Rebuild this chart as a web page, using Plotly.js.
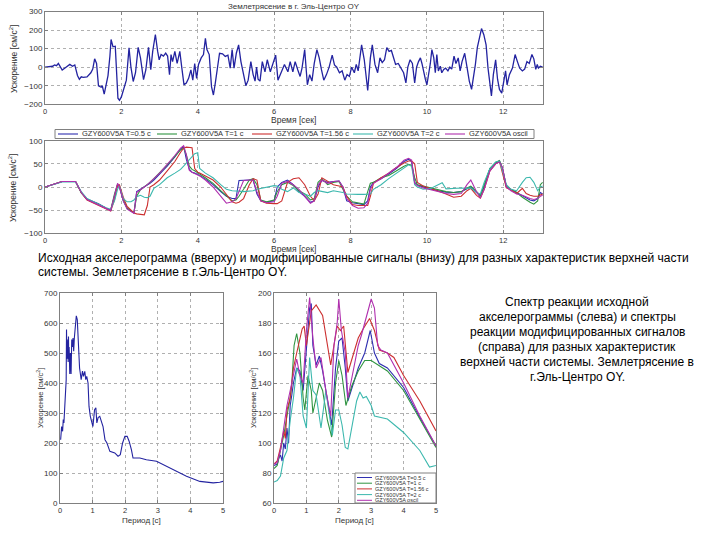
<!DOCTYPE html>
<html>
<head>
<meta charset="utf-8">
<script src="https://cdn.plot.ly/plotly-3.0.1.min.js"></script>
<style>
  html, body { margin: 0; padding: 0; background: #fff; }
  #chart { width: 720px; height: 540px; }
</style>
</head>
<body>
<div id="chart"></div>
<script>
// accelerogram, El Centro OY (top panel)
var accT = [0,0.1,0.2,0.25,0.3,0.35,0.4,0.45,0.55,0.65,0.72,0.78,0.85,0.9,0.95,1.0,1.1,1.2,1.25,1.3,1.35,1.4,1.47,1.5,1.55,1.6,1.65,1.7,1.73,1.78,1.84,1.91,1.95,2.0,2.07,2.13,2.2,2.25,2.31,2.37,2.44,2.5,2.58,2.64,2.71,2.77,2.82,2.89,2.95,2.99,3.04,3.1,3.16,3.21,3.26,3.3,3.34,3.4,3.46,3.53,3.58,3.64,3.7,3.76,3.82,3.87,3.92,3.97,4.02,4.09,4.15,4.2,4.24,4.3,4.36,4.41,4.46,4.51,4.57,4.65,4.72,4.79,4.85,4.9,4.95,5.01,5.07,5.13,5.19,5.26,5.32,5.39,5.45,5.5,5.54,5.58,5.63,5.69,5.76,5.82,5.9,5.97,6.04,6.1,6.18,6.27,6.36,6.42,6.49,6.55,6.62,6.68,6.73,6.8,6.87,6.93,6.99,7.05,7.12,7.18,7.24,7.3,7.37,7.44,7.52,7.58,7.64,7.71,7.78,7.85,7.91,7.97,8.03,8.1,8.15,8.2,8.29,8.36,8.45,8.52,8.57,8.64,8.71,8.77,8.83,8.89,8.95,9.01,9.07,9.12,9.18,9.25,9.32,9.39,9.45,9.5,9.56,9.62,9.68,9.73,9.78,9.83,9.87,9.92,9.96,10.0,10.05,10.09,10.13,10.18,10.22,10.26,10.3,10.35,10.39,10.44,10.49,10.55,10.6,10.65,10.71,10.76,10.82,10.87,10.92,10.99,11.05,11.11,11.17,11.22,11.27,11.32,11.38,11.43,11.49,11.55,11.6,11.64,11.69,11.74,11.8,11.85,11.9,11.96,12.02,12.06,12.1,12.16,12.24,12.31,12.37,12.43,12.5,12.56,12.62,12.68,12.75,12.8,12.85,12.89,12.92,12.97,13.03];
var accV = [0,3,5,12,8,20,5,-15,0,15,5,12,-45,-65,-52,-55,-52,-30,-10,45,20,-100,-108,-100,-145,-100,-45,60,149,110,113,-167,-178,-160,-112,-70,104,0,-77,-30,107,50,-67,-15,107,-13,85,176,85,40,68,60,76,60,-40,68,30,85,20,85,0,-95,-85,-60,-15,-70,20,-60,15,50,68,155,95,68,-105,-150,-85,-15,75,72,58,65,-5,95,-5,75,120,30,-40,-100,-70,30,-40,-75,0,-65,-75,30,-25,40,-25,20,65,-70,-25,15,-25,30,-25,30,-15,-50,-5,95,-95,-40,-75,20,95,50,-15,-70,-40,0,65,12,0,-30,-20,-70,-40,-50,0,-30,15,-20,120,40,-125,50,120,15,-30,50,25,40,105,85,90,50,15,20,-5,-30,-85,0,40,20,-85,0,30,50,20,-40,-65,-95,-40,20,95,50,-30,68,-20,5,-30,-12,-5,-20,0,-10,60,20,50,-20,30,75,0,-75,-120,-60,15,105,165,208,175,120,-5,-65,-155,-40,40,-65,-120,-140,-60,-20,-95,-40,-5,68,30,-5,-20,-10,30,20,68,45,-12,15,-5,5,0];

// modified signals (middle panel), shared time grid
var modT = [0,0.3,0.45,0.8,0.95, 1.1,1.4,1.6,1.72,1.82, 1.9,1.95,2.05,2.15,2.25, 2.33,2.4,2.5,2.6,2.68, 2.75,2.85,3.0,3.2,3.4, 3.55,3.63,3.7,3.78,3.85, 3.92,4.0,4.05,4.2,4.4, 4.6,4.75,4.9,5.0,5.08, 5.2,5.35,5.45,5.55,5.65, 5.8,6.0,6.08,6.2,6.35, 6.5,6.65,6.8,6.95,7.05, 7.15,7.25,7.4,7.55,7.7, 7.8,7.9,8.05,8.2,8.35, 8.45,8.52,8.6,8.8,9.0, 9.2,9.4,9.52,9.6,9.68, 9.75,9.9,10.1,10.3,10.4, 10.5,10.7,10.9,11.05,11.15, 11.3,11.4,11.5,11.65,11.8, 11.9,11.98,12.08,12.2,12.35, 12.5,12.6,12.7,12.8,12.9, 12.97,13.03];
var modT05 = [0,8,12,12,-12, -26,-36,-46,-50,-20, 5,0,-30,-46,-52, -56,-10,-5,0,4, 8,15,28,45,65, 82,88,60,38,32, 30,27,25,17,5, -10,-20,-25,-25,14, 15,15,15,-15,-30, -33,-30,0,10,15, 5,-10,-20,-33,-30, 0,14,10,12,13, 0,-30,-34,-36,-38, -30,0,10,18,28, 40,55,60,55,10, 4,0,-4,-8,-10, -11,-12,-10,-4,0, -12,-18,0,40,52, 56,40,0,-5,-12, -20,-24,-28,-30,-25, -12,-15];
var modT1 = [0,8,12,12,-13, -27,-37,-46,-50,-15, 6,2,-28,-45,-52, -55,-20,-6,0,5, 10,18,30,48,66, 80,84,70,45,38, 35,30,28,20,8, -8,-18,-30,-28,-20, -5,15,18,5,-28, -32,-28,-10,5,10, 3,-8,-15,-28,-25, 10,18,5,10,12, -5,-20,-32,-35,-37, -10,8,10,20,25, 35,45,49,47,20, 5,2,-2,-5,-8, -10,-12,-10,-2,2, -10,-20,5,40,53, 57,40,2,-5,-12, -22,-28,-33,-37,-30, 5,10];
var modT156 = [0,8,12,12,-12, -28,-40,-48,-52,-28, 3,5,-22,-42,-50, -56,-58,-59,-60,-40, 0,5,15,35,55, 75,84,86,86,85, 40,32,30,24,15, 0,-15,-32,-35,-33, -25,5,18,15,-30, -35,-36,-36,-30,10, 18,20,5,-20,-30, -15,20,12,5,2, 0,-20,-38,-40,-40, -40,-20,8,20,30, 42,52,56,56,50, 10,2,-3,-8,-12, -15,-22,-20,-8,-3, -18,-24,-5,35,50, 55,30,-2,-6,-14, -3,-14,-18,-20,-20, -18,-15];
var modT2 = [0,8,11,11,-10, -25,-37,-45,-48,-30, -5,2,-25,-32,-32, -28,-21,-18,-22,-23, -20,-3,5,20,30, 38,45,52,60,66, 72,74,40,30,20, 5,-5,-8,-8,-9, -10,-8,-8,-5,-3, 0,3,2,-5,-10, -2,-12,-15,-20,-12, -8,-10,-12,-8,-10, -12,-15,-16,-16,-16, -16,-15,-5,5,18, 30,42,48,45,5, 0,-5,-3,5,9, -4,-3,-2,-3,-2, -12,-15,10,40,54, 56,35,5,-5,-8, 10,20,21,10,-8, 0,2];
var modOsc = [0,8,12,12,-12, -27,-38,-47,-51,-18, 8,0,-30,-48,-54, -57,-12,-5,0,5, 10,18,30,48,68, 84,89,70,36,32, 30,26,24,15,0, -20,-35,-32,-25,-10, 14,15,15,-10,-30, -34,-32,-20,8,12, 5,-5,-20,-35,-30, 5,15,8,12,13, 0,-25,-40,-46,-45, -35,-5,8,18,30, 42,58,62,58,8, 3,-2,-6,-10,-12, -14,-16,-14,5,15, -10,-24,-5,35,50, 54,42,0,-8,-15, -18,-22,-25,-27,-25, -20,-18];

// response spectrum of the original record (bottom left)
var specT = [0.02,0.05,0.08,0.1,0.12,0.15,0.17,0.19,0.2,0.21,0.22,0.23,0.24,0.25,0.26,0.27,0.28,0.3,0.32,0.34,0.36,0.38,0.4,0.42,0.44,0.47,0.5,0.53,0.56,0.6,0.65,0.69,0.72,0.76,0.79,0.82,0.86,0.89,0.93,0.97,1.01,1.06,1.1,1.13,1.17,1.22,1.27,1.32,1.38,1.44,1.53,1.68,1.78,1.85,1.92,1.99,2.06,2.12,2.19,2.24,2.45,2.65,2.96,3.27,3.58,3.88,4.29,4.7,4.9,5.0];
var specV = [211,255,239,278,267,322,378,411,578,480,560,500,545,470,555,480,520,430,500,430,545,520,550,506,550,580,624,611,544,450,411,440,422,439,411,422,400,322,289,272,255,311,317,267,285,289,267,255,211,200,172,167,156,161,200,222,222,206,178,150,150,144,139,122,106,89,72,67,69,72];

// response spectra of the modified signals (bottom right)
var spT05 = [0,0.1,0.15,0.2,0.25,0.3,0.35,0.4,0.45,0.5,0.55,0.6,0.7,0.8,0.9,1.0,1.1,1.15,1.2,1.3,1.4,1.5,1.65,1.78,1.9,2.0,2.1,2.2,2.28,2.45,2.6,2.8,2.97,3.1,3.25,3.5,4.0,4.5,5.0];
var spV05 = [85,86,90,92,88,100,96,110,100,125,132,140,150,148,135,160,190,193,165,152,158,148,130,112,150,168,170,150,128,140,150,160,175,160,153,150,137,117,98];
var spT1 = [0,0.1,0.2,0.3,0.4,0.5,0.55,0.62,0.7,0.8,0.9,0.95,1.05,1.15,1.2,1.3,1.4,1.5,1.65,1.78,1.9,2.0,2.1,2.22,2.4,2.6,2.8,3.0,3.2,3.5,4.0,4.5,5.0];
var spV1 = [83,85,95,105,118,130,140,165,173,160,130,122,145,135,120,130,140,135,115,104,140,155,145,125,138,148,155,155,152,148,135,116,97];
var spT156 = [0,0.1,0.2,0.3,0.35,0.4,0.5,0.6,0.7,0.8,0.87,0.93,1.0,1.15,1.3,1.5,1.62,1.75,1.85,1.95,2.05,2.15,2.28,2.45,2.6,2.75,2.95,3.1,3.25,3.5,3.7,4.0,4.5,5.0];
var spV156 = [86,88,97,108,103,122,130,150,160,170,176,178,165,188,192,185,170,152,165,178,175,178,147,160,170,176,183,175,162,160,157,145,128,108];
var spT2 = [0,0.1,0.2,0.25,0.3,0.4,0.5,0.6,0.7,0.8,0.9,1.0,1.1,1.2,1.3,1.45,1.6,1.7,1.8,1.9,2.0,2.1,2.2,2.28,2.4,2.55,2.65,2.75,2.85,3.0,3.1,3.3,3.5,4.0,4.5,4.8,5.0];
var spV2 = [74,75,78,84,90,95,115,130,150,145,118,110,157,135,132,110,135,120,105,122,122,112,97,96,110,128,134,130,131,125,118,117,116,107,95,84,85];
var spTosc = [0,0.1,0.2,0.3,0.4,0.5,0.6,0.7,0.8,0.9,1.0,1.1,1.2,1.3,1.45,1.6,1.75,1.85,1.95,2.0,2.08,2.2,2.28,2.45,2.6,2.7,2.8,3.0,3.1,3.2,3.3,3.5,4.0,4.5,5.0];
var spVosc = [86,87,95,110,125,135,145,156,145,140,175,197,170,150,157,135,118,165,180,196,175,160,130,150,165,172,180,196,190,165,162,160,140,118,98];

var names = ["GZY600V5A T=0.5 c", "GZY600V5A T=1 c", "GZY600V5A T=1.56 c", "GZY600V5A T=2 c", "GZY600V5A oscil"];
var colors = ["#2f2fb0", "#2e9440", "#cc2f2f", "#3cb8ae", "#b02fae"];

var rightText = ["Спектр реакции исходной", "акселерограммы (слева) и спектры", "реакции модифицированных сигналов",
  "(справа) для разных характеристик", "верхней части системы. Землетрясение в", "г.Эль-Центро OY."];

var modY = [modT05, modT1, modT156, modT2, modOsc];
var spX = [spT05, spT1, spT156, spT2, spTosc];
var spY = [spV05, spV1, spV156, spV2, spVosc];

var data = [];
data.push({x: accT, y: accV, type: "scatter", mode: "lines", line: {color: "#2323a0", width: 1.3}, xaxis: "x", yaxis: "y"});
for (var i = 0; i < 5; i++) {
  data.push({x: modT, y: modY[i], type: "scatter", mode: "lines", name: names[i],
    line: {color: colors[i], width: 1.1}, xaxis: "x2", yaxis: "y2"});
}
data.push({x: specT, y: specV, type: "scatter", mode: "lines", line: {color: "#2323a0", width: 1.1}, xaxis: "x3", yaxis: "y3"});
for (var j = 0; j < 5; j++) {
  data.push({x: spX[j], y: spY[j], type: "scatter", mode: "lines", name: names[j],
    line: {color: colors[j], width: 1.1}, xaxis: "x4", yaxis: "y4"});
}

var fam = "Liberation Sans, Arial, sans-serif";
var tickFont = {family: fam, size: 8, color: "#333"};

function axis(extra) {
  return Object.assign({
    showline: true, mirror: "ticks", linecolor: "#808080", linewidth: 1,
    ticks: "inside", ticklen: 3, tickcolor: "#808080",
    showgrid: true, gridcolor: "#b0b0b0", griddash: "dot", gridwidth: 1,
    zeroline: false, tickfont: tickFont, fixedrange: true
  }, extra);
}
function xAxis(extra) {
  return axis(Object.assign({tickfont: {family: fam, size: 7.5, color: "#333"}}, extra));
}

var yTitle = "Ускорение [см/с<sup>2</sup>]";

// page px -> paper coords
function px(x) { return x / 720; }
function py(y) { return 1 - y / 540; }

var shapes = [];
var annotations = [
  {text: "Землетрясение в г. Эль-Центро OY", x: px(294), y: py(7), font: {size: 8, color: "#333"}},
  {text: "Исходная акселерограмма (вверху) и модифицированные сигналы (внизу) для разных характеристик верхней части",
    x: px(37), y: py(258), xanchor: "left", font: {size: 12, color: "#000"}},
  {text: "системы. Землетрясение в г.Эль-Центро OY.",
    x: px(37), y: py(272), xanchor: "left", font: {size: 12, color: "#000"}},
  // axis titles
  {text: "Время [сек]", x: px(293), y: py(120.5), font: {size: 8.5, color: "#333"}},
  {text: "Время [сек]", x: px(293), y: py(248.5), font: {size: 8.5, color: "#333"}},
  {text: "Период [с]", x: px(141), y: py(520), font: {size: 8, color: "#333"}},
  {text: "Период [с]", x: px(354), y: py(520), font: {size: 8, color: "#333"}},
  {text: yTitle, x: px(13), y: py(59), textangle: -90, font: {size: 8.5, color: "#333"}},
  {text: yTitle, x: px(13), y: py(188), textangle: -90, font: {size: 8.5, color: "#333"}},
  {text: yTitle, x: px(40), y: py(398), textangle: -90, font: {size: 7.5, color: "#333"}},
  {text: yTitle, x: px(253), y: py(398), textangle: -90, font: {size: 7.5, color: "#333"}}
];
rightText.forEach(function (s, k) {
  annotations.push({text: s, x: px(577), y: py(302 + k * 15), font: {size: 12, color: "#000"}});
});

// legend of the middle panel: one row above the plot
shapes.push({type: "rect", xref: "paper", yref: "paper", x0: px(55), x1: px(534), y0: py(138.5), y1: py(129.5),
  line: {color: "#808080", width: 1}, fillcolor: "#fff"});
var legLine = [58, 157, 252, 353, 445];
legLine.forEach(function (x0, k) {
  shapes.push({type: "line", xref: "paper", yref: "paper", x0: px(x0), x1: px(x0 + 20), y0: py(134), y1: py(134),
    line: {color: colors[k], width: 1.1}});
  annotations.push({text: names[k], x: px(x0 + 23), y: py(134), xanchor: "left", font: {size: 7.5, color: "#333"}});
});

// legend of the spectra panel: inside, lower right corner
shapes.push({type: "rect", xref: "paper", yref: "paper", x0: px(355), x1: px(436), y0: py(503), y1: py(473),
  line: {color: "#808080", width: 1}, fillcolor: "#fff"});
for (var k = 0; k < 5; k++) {
  var yy = 477.5 + k * 5.7;
  shapes.push({type: "line", xref: "paper", yref: "paper", x0: px(357), x1: px(372), y0: py(yy), y1: py(yy),
    line: {color: colors[k], width: 1}});
  annotations.push({text: names[k], x: px(374), y: py(yy), xanchor: "left", font: {size: 5.5, color: "#333"}});
}

annotations.forEach(function (a) {
  a.xref = "paper"; a.yref = "paper"; a.showarrow = false; a.yanchor = "middle";
  if (!a.xanchor) a.xanchor = "center";
  a.borderpad = 0; a.font.family = fam;
});

var layout = {
  width: 720, height: 540,
  margin: {l: 0, r: 0, t: 0, b: 0},
  paper_bgcolor: "#fff", plot_bgcolor: "#fff",
  font: {family: fam},
  showlegend: false,
  xaxis: xAxis({domain: [px(45), px(543)], range: [0, 13.04], dtick: 2, anchor: "y"}),
  yaxis: axis({domain: [py(104.3), py(11.5)], range: [-200, 300], dtick: 100, anchor: "x"}),
  xaxis2: xAxis({domain: [px(45), px(543)], range: [0, 13.04], dtick: 2, anchor: "y2"}),
  yaxis2: axis({domain: [py(233.3), py(140.7)], range: [-100, 100], dtick: 50, anchor: "x2"}),
  xaxis3: xAxis({domain: [px(60), px(223)], range: [0, 5], dtick: 1, anchor: "y3"}),
  yaxis3: axis({domain: [py(503), py(293)], range: [0, 700], dtick: 100, anchor: "x3"}),
  xaxis4: xAxis({domain: [px(274), px(436)], range: [0, 5], dtick: 1, anchor: "y4"}),
  yaxis4: axis({domain: [py(503), py(293)], range: [60, 200], dtick: 20, anchor: "x4"}),
  shapes: shapes,
  annotations: annotations
};

Plotly.newPlot("chart", data, layout, {displayModeBar: false, staticPlot: true});
</script>
</body>
</html>
